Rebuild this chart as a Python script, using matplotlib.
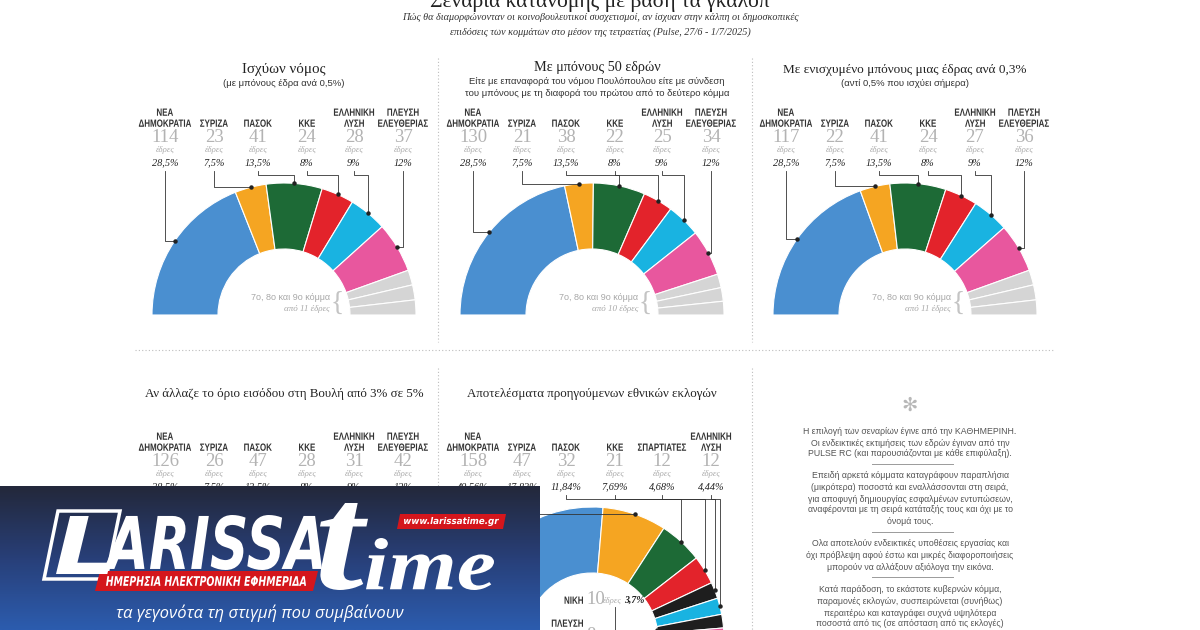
import numpy as np
import matplotlib
matplotlib.use('Agg')
import matplotlib.pyplot as plt
from matplotlib.patches import Wedge, Polygon, PathPatch
from matplotlib.textpath import TextPath
from matplotlib.font_manager import FontProperties
from matplotlib.transforms import Affine2D
from matplotlib.colors import LinearSegmentedColormap

SERIF = ['Liberation Serif', 'DejaVu Serif']
SANS = ['Liberation Sans', 'DejaVu Sans']
NAME_PROP = FontProperties(family='Liberation Sans', weight='bold')

# ---- data ----
main_title = 'Σενάρια κατανομής με βάση τα γκάλοπ'
subtitle = ['Πώς θα διαμορφώνονταν οι κοινοβουλευτικοί συσχετισμοί, αν ίσχυαν στην κάλπη οι δημοσκοπικές',
            'επιδόσεις των κομμάτων στο μέσον της τετραετίας (Pulse, 27/6 - 1/7/2025)']

party_names = ['ΝΕΑ\nΔΗΜΟΚΡΑΤΙΑ', 'ΣΥΡΙΖΑ', 'ΠΑΣΟΚ', 'ΚΚΕ', 'ΕΛΛΗΝΙΚΗ\nΛΥΣΗ', 'ΠΛΕΥΣΗ\nΕΛΕΥΘΕΡΙΑΣ']
poll_pcts = ['28,5%', '7,5%', '13,5%', '8%', '9%', '12%']
party_colors = ['#4a8fd0', '#f5a522', '#1d6a36', '#e3232b', '#19b3e1', '#e8579e']
other_color = '#d5d5d5'

panel_titles = ['Ισχύων νόμος', 'Με μπόνους 50 εδρών', 'Με ενισχυμένο μπόνους μιας έδρας ανά 0,3%',
                'Αν άλλαζε το όριο εισόδου στη Βουλή από 3% σε 5%',
                'Αποτελέσματα προηγούμενων εθνικών εκλογών']
title_sizes = [10.8, 10.3, 9.5, 9.3, 9.3]
panel_notes = [['(με μπόνους έδρα ανά 0,5%)'],
               ['Είτε με επαναφορά του νόμου Πουλόπουλου είτε με σύνδεση',
                'του μπόνους με τη διαφορά του πρώτου από το δεύτερο κόμμα'],
               ['(αντί 0,5% που ισχύει σήμερα)'], [], []]

seats_current = [114, 23, 41, 24, 28, 37]
others_current = [11, 11, 11]
seats_bonus50 = [130, 21, 38, 22, 25, 34]
others_bonus50 = [10, 10, 10]
seats_bonus03 = [117, 22, 41, 24, 27, 36]
others_bonus03 = [11, 11, 11]
seats_threshold5 = [126, 26, 47, 28, 31, 42]

prev_names = ['ΝΕΑ\nΔΗΜΟΚΡΑΤΙΑ', 'ΣΥΡΙΖΑ', 'ΠΑΣΟΚ', 'ΚΚΕ', 'ΣΠΑΡΤΙΑΤΕΣ', 'ΕΛΛΗΝΙΚΗ\nΛΥΣΗ',
              'ΝΙΚΗ', 'ΠΛΕΥΣΗ\nΕΛΕΥΘΕΡΙΑΣ']
prev_seats = [158, 47, 32, 21, 12, 12, 10, 8]
prev_pcts = ['40,56%', '17,83%', '11,84%', '7,69%', '4,68%', '4,44%', '3,7%', '']
prev_colors = ['#4a8fd0', '#f5a522', '#1d6a36', '#e3232b', '#1e1e1e', '#19b3e1', '#1e1e1e', '#e8579e']

notes = [['Η επιλογή των σεναρίων έγινε από την ΚΑΘΗΜΕΡΙΝΗ.',
          'Οι ενδεικτικές εκτιμήσεις των εδρών έγιναν από την',
          'PULSE RC (και παρουσιάζονται με κάθε επιφύλαξη).'],
         ['Επειδή αρκετά κόμματα καταγράφουν παραπλήσια',
          '(μικρότερα) ποσοστά και εναλλάσσονται στη σειρά,',
          'για αποφυγή δημιουργίας εσφαλμένων εντυπώσεων,',
          'αναφέρονται με τη σειρά κατάταξής τους και όχι με το',
          'όνομά τους.'],
         ['Ολα αποτελούν ενδεικτικές υποθέσεις εργασίας και',
          'όχι πρόβλεψη αφού έστω και μικρές διαφοροποιήσεις',
          'μπορούν να αλλάξουν αξιόλογα την εικόνα.'],
         ['Κατά παράδοση, το εκάστοτε κυβερνών κόμμα,',
          'παραμονές εκλογών, συσπειρώνεται (συνήθως)',
          'περαιτέρω και καταγράφει συχνά υψηλότερα',
          'ποσοστά από τις (σε απόσταση από τις εκλογές)']]

TOTAL = 300
R_OUT, R_IN = 132, 66
label_dx = [-119, -70, -26, 23, 70, 119]


def squeeze_text(ax, s, x, y, size=10.5, xscale=0.76, ha='center', color='#333333', prop=NAME_PROP, z=3):
    # condensed caps drawn as a path (no narrow font installed)
    tp = TextPath((0, 0), s, prop=prop, size=size)
    bb = tp.get_extents()
    w = bb.width * xscale
    x0 = {'center': x - w / 2, 'right': x - w, 'left': x}[ha]
    cap = size * 0.72
    tr = Affine2D().translate(-bb.x0, 0).scale(xscale, -1).translate(x0, y + cap / 2)
    ax.add_patch(PathPatch(tr.transform_path(tp), facecolor=color, edgecolor='none', zorder=z))


def draw_ring(ax, cx, cy, seats, colors):
    start = 0
    mids = []
    for s, c in zip(seats, colors):
        t1 = 180 + start / TOTAL * 180
        t2 = 180 + (start + s) / TOTAL * 180
        ax.add_patch(Wedge((cx, cy), R_OUT, t1, t2, width=R_OUT - R_IN,
                           facecolor=c, edgecolor='white', lw=0.8))
        mids.append(np.deg2rad((t1 + t2) / 2))
        start += s
    return mids


def draw_labels(ax, cx, cy, y0, names, seats, pcts, mids):
    for i in range(6):
        lx = cx + label_dx[i]
        lines = names[i].split('\n')
        for j, ln in enumerate(reversed(lines)):
            squeeze_text(ax, ln, lx, y0 + 123 - 11 * j)
        ax.text(lx, y0 + 137, str(seats[i]), ha='center', va='center', fontsize=13.5,
                family=SERIF, color='#b3b3b3')
        ax.text(lx, y0 + 150, 'έδρες', ha='center', va='center', fontsize=6.3,
                family=SERIF, style='italic', color='#aaaaaa')
        ax.text(lx, y0 + 163, pcts[i], ha='center', va='center', fontsize=7.4,
                family=SERIF, style='italic', color='#222222')
        dx = cx + R_OUT * np.cos(mids[i])
        dy = cy + R_OUT * np.sin(mids[i])
        top = y0 + 171
        if i < 2 or dx < lx:
            xs, ys = [lx, lx, dx], [top, dy, dy]
        else:
            xs, ys = [lx, lx, dx, dx], [top, top + 4, top + 4, dy]
        ax.plot(xs, ys, color='#333333', lw=0.6)
        ax.plot(dx, dy, 'o', ms=2.2, color='#222222')


def draw_title(ax, cx, y0, title, sub, size):
    if len(sub) == 2:
        ax.text(cx + 5, y0 + 68, title, ha='center', va='center', fontsize=size, family=SERIF, color='#222222')
        ax.text(cx + 5, y0 + 81, sub[0], ha='center', va='center', fontsize=6.8, family=SANS, color='#333333')
        ax.text(cx + 5, y0 + 93, sub[1], ha='center', va='center', fontsize=6.8, family=SANS, color='#333333')
    else:
        ax.text(cx, y0 + 70, title, ha='center', va='center', fontsize=size, family=SERIF, color='#222222')
        for s in sub:
            ax.text(cx, y0 + 84, s, ha='center', va='center', fontsize=6.8, family=SANS, color='#333333')


def others_note(ax, cx, cy, n):
    ax.text(cx + 46, cy - 17, '7ο, 8ο και 9ο κόμμα', ha='right', va='center', fontsize=6.5,
            family=SANS, color='#a8a8a8')
    ax.text(cx + 46, cy - 6, 'από %d έδρες' % n, ha='right', va='center', fontsize=6.5,
            family=SERIF, style='italic', color='#a8a8a8')
    ax.text(cx + 53, cy - 12, '{', ha='center', va='center', fontsize=20,
            family=SERIF, color='#c4c4c4')


def fit_text(ax, s, x0, y0, x1, y1, prop, color='white', z=22):
    tp = TextPath((0, 0), s, prop=prop, size=10)
    bb = tp.get_extents()
    tr = (Affine2D().translate(-bb.x0, -bb.y0)
          .scale((x1 - x0) / bb.width, -(y1 - y0) / bb.height)
          .translate(x0, y1))
    ax.add_patch(PathPatch(tr.transform_path(tp), facecolor=color, edgecolor='none', zorder=z))


fig = plt.figure(figsize=(12, 6.3), dpi=100)
ax = fig.add_axes([0, 0, 1, 1])
fig.patch.set_facecolor('white')

# header
ax.text(600, 7, main_title, ha='center', va='baseline', fontsize=15.5, family=SERIF, color='#222222')
ax.text(600, 17, subtitle[0], ha='center', va='center', fontsize=7.3, family=SERIF, style='italic', color='#333333')
ax.text(600, 32, subtitle[1], ha='center', va='center', fontsize=7.3, family=SERIF, style='italic', color='#333333')

# separators
sep = dict(color='#bdbdbd', lw=0.8, ls=(0, (1, 2)))
for x in (438, 752):
    ax.plot([x, x], [58, 342], **sep)
    ax.plot([x, x], [368, 630], **sep)
ax.plot([135, 1055], [350, 350], **sep)

# top row
row1 = [(284, seats_current, others_current), (592, seats_bonus50, others_bonus50),
        (905, seats_bonus03, others_bonus03)]
for k, (cx, seats, others) in enumerate(row1):
    draw_title(ax, cx, 0, panel_titles[k], panel_notes[k], title_sizes[k])
    mids = draw_ring(ax, cx, 315, seats + others, party_colors + [other_color] * len(others))
    draw_labels(ax, cx, 315, 0, party_names, seats, poll_pcts, mids)
    others_note(ax, cx, 315, others[0])

# bottom row
draw_title(ax, 284, 324, panel_titles[3], [], title_sizes[3])
mids = draw_ring(ax, 284, 639, seats_threshold5, party_colors)
draw_labels(ax, 284, 639, 324, party_names, seats_threshold5, poll_pcts, mids)

draw_title(ax, 592, 324, panel_titles[4], [], title_sizes[4])
mids = draw_ring(ax, 592, 639, prev_seats, prev_colors)
draw_labels(ax, 592, 639, 324, prev_names, prev_seats, prev_pcts, mids)

# small parties listed inside the ring
for i, yy in ((6, 600), (7, 623)):
    lines = prev_names[i].split('\n')
    for j, ln in enumerate(lines):
        squeeze_text(ax, ln, 583, yy + 11 * j, ha='right')
    ax.text(586, yy + (0 if i == 6 else 12), str(prev_seats[i]), ha='left', va='center', fontsize=13.5,
            family=SERIF, color='#b3b3b3')
ax.text(603, 601, 'έδρες', ha='left', va='center', fontsize=6.3, family=SERIF, style='italic', color='#aaaaaa')
ax.text(624, 600, prev_pcts[6], ha='left', va='center', fontsize=7, family=SERIF, style='italic',
        fontweight='bold', color='#222222')
dx = 592 + R_IN * np.cos(mids[6])
dy = 639 + R_IN * np.sin(mids[6])
ax.plot([615, 615, dx], [607, dy, dy], color='#333333', lw=0.6)
ax.plot(dx, dy, 'o', ms=2.2, color='#222222')

# notes column
ax.text(910, 405, '✻', ha='center', va='center', fontsize=14, color='#b8b8b8', family=['DejaVu Sans'])
note_y = [[431, 443, 454], [476, 488, 499, 510, 521], [544, 556, 567], [590, 602, 613, 624]]
for block, ys in zip(notes, note_y):
    for ln, yy in zip(block, ys):
        ax.text(910, yy, ln, ha='center', va='center', fontsize=6.3, family=SANS, color='#555555')
for yy in (464, 532, 577):
    ax.plot([872, 953], [yy, yy], color='#9a9a9a', lw=0.7)

# site logo overlay
grad = np.linspace(0, 1, 64).reshape(-1, 1)
cmap = LinearSegmentedColormap.from_list('logo', ['#23283b', '#283f78', '#2c5cae'])
ax.imshow(grad, extent=(0, 540, 630, 486), cmap=cmap, aspect='auto', zorder=20, origin='upper')
bold_it = FontProperties(family='DejaVu Sans', weight='bold', style='italic')
serif_it = FontProperties(family='Liberation Serif', weight='bold', style='italic')
ax.add_patch(Polygon([(58, 511), (120, 511), (106, 579), (44, 579)], closed=True, fill=False,
                     edgecolor='white', lw=2.5, zorder=21))
fit_text(ax, 'L', 56, 516, 110, 574, bold_it)
fit_text(ax, 'ARISSA', 104, 515, 322, 570, bold_it)
fit_text(ax, 't', 320, 503, 368, 590, serif_it)
fit_text(ax, 'ime', 366, 538, 494, 590, serif_it)
ax.add_patch(Polygon([(100, 571), (318, 571), (313, 591), (95, 591)], closed=True,
                     facecolor='#d4161c', edgecolor='none', zorder=21))
fit_text(ax, 'ΗΜΕΡΗΣΙΑ ΗΛΕΚΤΡΟΝΙΚΗ ΕΦΗΜΕΡΙΔΑ', 106, 576, 306, 586, bold_it)
ax.add_patch(Polygon([(400, 514), (506, 514), (503, 529), (397, 529)], closed=True,
                     facecolor='#d4161c', edgecolor='none', zorder=21))
fit_text(ax, 'www.larissatime.gr', 404, 517, 499, 526, bold_it)
ax.text(260, 613, 'τα γεγονότα τη στιγμή που συμβαίνουν', ha='center', va='center', fontsize=12,
        family=['Open Sans', 'DejaVu Sans'], style='italic', color='white', zorder=22)

ax.set_xlim(0, 1200)
ax.set_ylim(630, 0)
ax.axis('off')
fig.savefig('out.png', dpi=100, facecolor='white')
